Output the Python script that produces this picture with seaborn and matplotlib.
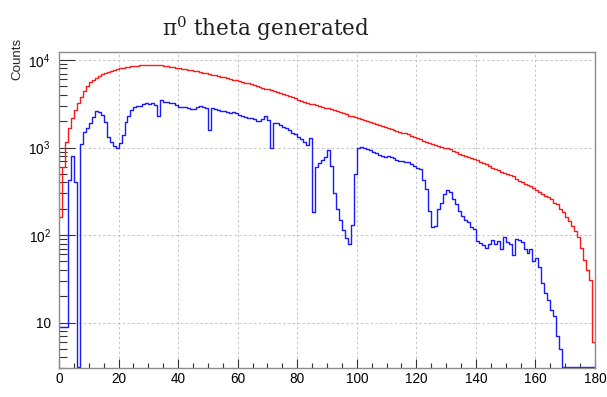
import numpy as np
import pandas as pd
import matplotlib
matplotlib.use("Agg")
import matplotlib.pyplot as plt
import seaborn as sns
from matplotlib.ticker import FixedLocator, MultipleLocator, LogLocator, FuncFormatter, NullFormatter

# Polar angle binning: 1-degree bins from 0 to 180
theta_edges = np.arange(0, 181, 1)

# All generated pi0 (red)
generated_counts = [
    160, 600, 1150, 1650, 2150, 2650, 3200, 3800, 4450, 5050,
    5550, 5950, 6300, 6600, 6850, 7100, 7350, 7550, 7700, 7900,
    8050, 8170, 8300, 8400, 8480, 8550, 8620, 8680, 8760, 8700,
    8770, 8760, 8790, 8700, 8650, 8600, 8500, 8420, 8330, 8200,
    8050, 7960, 7870, 7780, 7660, 7520, 7400, 7270, 7130, 7010,
    6890, 6790, 6700, 6580, 6460, 6310, 6190, 6100, 5960, 5860,
    5750, 5620, 5500, 5400, 5270, 5150, 5050, 4920, 4790, 4700,
    4600, 4520, 4420, 4330, 4240, 4100, 3980, 3870, 3760, 3630,
    3530, 3440, 3350, 3260, 3180, 3140, 3070, 3000, 2930, 2860,
    2800, 2740, 2670, 2600, 2540, 2480, 2410, 2300, 2280, 2210,
    2150, 2100, 2060, 2010, 1960, 1900, 1850, 1790, 1750, 1710,
    1670, 1620, 1580, 1540, 1500, 1470, 1450, 1410, 1360, 1320,
    1270, 1240, 1200, 1160, 1120, 1100, 1070, 1050, 1020, 995,
    975, 960, 910, 885, 850, 825, 805, 780, 760, 735,
    720, 690, 665, 640, 615, 590, 570, 550, 530, 515,
    500, 480, 470, 435, 415, 400, 385, 370, 360, 345,
    330, 312, 295, 282, 270, 258, 232, 229, 200, 182,
    162, 145, 126, 110, 95, 72, 52, 40, 31, 6,
]

# pi0 inside the acceptance (blue)
accepted_counts = [
    9, 9, 9, 420, 800, 400, 0, 1100, 1520, 1650,
    1890, 2250, 2630, 2570, 2350, 1970, 1330, 1170, 1040, 980,
    1120, 1390, 1970, 2290, 2690, 2880, 2980, 2950, 3110, 3200,
    3150, 3250, 3060, 2300, 3490, 3340, 3300, 3200, 3250, 3060,
    2930, 2930, 2880, 2800, 2730, 2780, 2930, 2980, 2880, 2800,
    1600, 2800, 2730, 2680, 2610, 2640, 2540, 2490, 2540, 2455,
    2350, 2290, 2250, 2190, 2150, 2100, 2030, 2010, 2100, 2300,
    2040, 980, 1900, 1920, 1810, 1730, 1690, 1585, 1480, 1430,
    1330, 1240, 1150, 1070, 1300, 185, 600, 660, 720, 770,
    930, 620, 300, 200, 150, 115, 92, 80, 130, 500,
    980, 1020, 1000, 960, 936, 895, 871, 820, 810, 785,
    800, 775, 751, 720, 710, 705, 689, 680, 646, 614,
    578, 564, 430, 340, 190, 124, 128, 200, 235, 295,
    330, 310, 260, 225, 190, 165, 150, 140, 125, 118,
    86, 82, 77, 72, 79, 88, 80, 86, 70, 96,
    84, 80, 59, 89, 88, 84, 70, 62, 70, 50,
    54, 43, 28, 22, 18, 14, 12, 7, 5, 0,
    0, 0, 0, 0, 0, 0, 0, 0, 0, 0,
]

x_ticks = [0, 20, 40, 60, 80, 100, 120, 140, 160, 180]
y_ticks = [10, 100, 1000, 10000]
y_range = (3.0, 12500)

sns.set_theme(style="white")
plt.rcParams.update({
    "font.family": ["Liberation Sans", "DejaVu Sans"],
    "mathtext.default": "regular",
    "axes.edgecolor": "#8c8c8c",
    "axes.linewidth": 1.0,
})

fig = plt.figure(figsize=(6.07, 3.97), dpi=100)
W, H = 607, 397
left, right, top, bottom = 59, 595, 51.5, 368.3
ax = fig.add_axes([left / W, 1 - bottom / H, (right - left) / W, (bottom - top) / H])

centers = (theta_edges[:-1] + theta_edges[1:]) / 2
n = len(centers)
# empty bins run along the lower frame edge, as in a log-scale histogram outline
floor = y_range[0] * 1.025
df = pd.DataFrame({
    "theta": np.concatenate([centers, centers]),
    "counts": np.concatenate([
        np.clip(np.asarray(generated_counts, float), floor, None),
        np.clip(np.asarray(accepted_counts, float), floor, None),
    ]),
    "sample": ["generated"] * n + ["accepted"] * n,
})

sns.histplot(
    data=df, x="theta", weights="counts", hue="sample",
    hue_order=["generated", "accepted"],
    binwidth=1, binrange=(theta_edges[0], theta_edges[-1]),
    element="step", fill=False,
    palette={"generated": "#ff1a1a", "accepted": "#1a1aff"},
    linewidth=1.0, legend=False, ax=ax,
)

ax.set_yscale("log")
ax.set_xlim(0, 180)
ax.set_ylim(*y_range)

# axes ticks
ax.xaxis.set_major_locator(FixedLocator(x_ticks))
ax.xaxis.set_minor_locator(MultipleLocator(5))
ax.yaxis.set_major_locator(FixedLocator(y_ticks))
ax.yaxis.set_minor_locator(LogLocator(base=10, subs=np.arange(2, 10)))
ax.yaxis.set_minor_formatter(NullFormatter())


def decade_label(v, pos):
    e = int(round(np.log10(v)))
    return "10" if e == 1 else f"$10^{{{e}}}$"


ax.yaxis.set_major_formatter(FuncFormatter(decade_label))
ax.set_xticklabels([str(t) for t in x_ticks])

ax.tick_params(axis="both", which="both", direction="in", colors="#333333",
               labelcolor="black", top=False, right=False, bottom=True, left=True,
               labelsize=9.8)
ax.tick_params(axis="x", which="major", length=6.8, width=0.8, pad=2.5)
ax.tick_params(axis="x", which="minor", length=3.4, width=0.8)
ax.tick_params(axis="y", which="major", length=11.5, width=0.8, pad=6)
ax.tick_params(axis="y", which="minor", length=5.8, width=0.8)

ax.grid(True, which="major", axis="both", linestyle=(0, (2.5, 2.5)),
        color="#c4c4c4", linewidth=0.7)
ax.set_axisbelow(True)
ax.set_xlabel("")

ax.set_ylabel("Counts", loc="top", fontsize=9.6)
ax.yaxis.set_label_coords((23 - left) / (right - left), (bottom - 38) / (bottom - top))

fig.text(266 / W, 1 - 29 / H, r"π$^{0}$ theta generated",
         family="DejaVu Serif", fontsize=15.5, ha="center", va="center",
         color="#1e1e1e")

fig.savefig("out.png", dpi=100)
